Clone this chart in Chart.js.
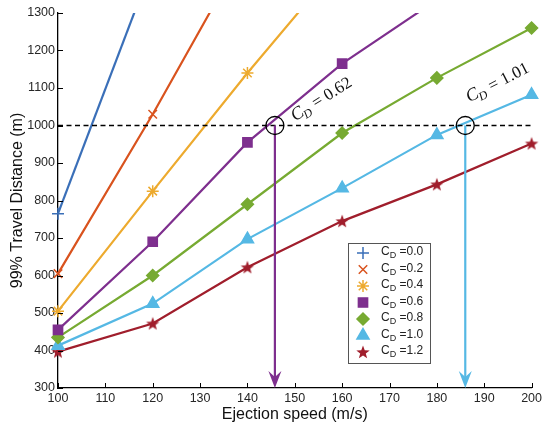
<!DOCTYPE html>
<html>
<head>
<meta charset="utf-8">
<script src="https://cdn.jsdelivr.net/npm/chart.js@4.4.1/dist/chart.umd.min.js"></script>
<style>
html, body { margin: 0; padding: 0; background: #fff; }
#wrap { width: 545px; height: 428px; }
</style>
</head>
<body>
<div id="wrap"><canvas id="chart"></canvas></div>
<script>
// ejection speed (m/s) and 99% travel distance (m) per drag coefficient
const speeds = [100, 120, 140, 160, 180, 200]
const cd00 = [765, 1430]
const cd02 = [605, 1030, 1480]
const cd04 = [505, 825, 1140, 1440]
const cd06 = [455, 690, 955, 1165, 1335]
const cd08 = [435, 600, 790, 980, 1127, 1260]
const cd10 = [413, 525, 697, 833, 975, 1082]
const cd12 = [397, 472, 622, 745, 843, 952]
const cdNames = ['0.0', '0.2', '0.4', '0.6', '0.8', '1.0', '1.2']

const targetDistance = 1000
const critSpeeds = [145.8, 186.0]
const critNames = ['0.62', '1.01']

const colors = ['#3A6FB8', '#D9531E', '#EDAA2E', '#7E2F8E', '#77AA32', '#55B8E4', '#A01E2C']

// filled five point star, chart.js has none
const makeStar = (color, r) => {
    let c = document.createElement('canvas')
    c.width = r * 2 + 2
    c.height = r * 2 + 2
    let g = c.getContext('2d')
    g.fillStyle = color
    g.beginPath()
    for (let i = 0; i < 10; i++) {
        let rad = i % 2 === 0 ? r : r * 0.42
        let a = -Math.PI / 2 + i * Math.PI / 5
        let px = r + 1 + rad * Math.cos(a)
        let py = r + 1.6 + rad * Math.sin(a)
        if (i === 0) g.moveTo(px, py); else g.lineTo(px, py)
    }
    g.closePath()
    g.fill()
    return c
}
const starImg = makeStar(colors[6], 7)

const styles = [
    { pointStyle: 'cross', radius: 6 },
    { pointStyle: 'crossRot', radius: 6 },
    { pointStyle: 'star', radius: 6 },
    { pointStyle: 'rect', radius: 6.5 },
    { pointStyle: 'rectRot', radius: 6 },
    { pointStyle: 'triangle', radius: 7 },
    { pointStyle: starImg, radius: 7 },
]

const series = [cd00, cd02, cd04, cd06, cd08, cd10, cd12]

const datasets = series.map((vals, k) => ({
    label: 'CD =' + cdNames[k],
    data: vals.map((v, i) => ({ x: speeds[i], y: v })),
    borderColor: colors[k],
    backgroundColor: colors[k],
    borderWidth: 2.2,
    pointStyle: styles[k].pointStyle,
    pointRadius: styles[k].radius,
    pointBorderWidth: 1.5,
    pointBorderColor: colors[k],
    pointBackgroundColor: colors[k],
    tension: 0,
    clip: { left: 12, right: 12, top: 0, bottom: 12 }
}))

const annotations = {
    id: 'annotations',
    afterDatasetsDraw(chart) {
        const c = chart.ctx
        const xs = chart.scales.x
        const ys = chart.scales.y
        const yT = ys.getPixelForValue(targetDistance)
        const yB = ys.bottom

        c.save()
        // dashed line at target distance
        c.strokeStyle = '#000'
        c.lineWidth = 1.3
        c.setLineDash([5, 3.5])
        c.beginPath()
        c.moveTo(xs.getPixelForValue(100), yT)
        c.lineTo(xs.getPixelForValue(200), yT)
        c.stroke()
        c.setLineDash([])

        const arrowColors = [colors[3], colors[5]]
        critSpeeds.forEach((s, i) => {
            const x = xs.getPixelForValue(s)
            c.strokeStyle = arrowColors[i]
            c.fillStyle = arrowColors[i]
            c.lineWidth = 2.2
            c.beginPath()
            c.moveTo(x, yT)
            c.lineTo(x, yB - 10)
            c.stroke()
            c.beginPath()
            c.moveTo(x, yB)
            c.lineTo(x - 6.5, yB - 17)
            c.lineTo(x, yB - 11)
            c.lineTo(x + 6.5, yB - 17)
            c.closePath()
            c.fill()
            c.strokeStyle = '#000'
            c.lineWidth = 1.3
            c.beginPath()
            c.arc(x, yT, 9, 0, Math.PI * 2)
            c.stroke()
        })

        // rotated labels
        const labelPos = [[20, -4, 32], [4, -23, 27]]
        critSpeeds.forEach((s, i) => {
            const x = xs.getPixelForValue(s)
            c.save()
            c.translate(x + labelPos[i][0], yT + labelPos[i][1])
            c.rotate(-labelPos[i][2] * Math.PI / 180)
            c.fillStyle = '#111'
            c.textBaseline = 'alphabetic'
            c.font = 'italic 18px "Liberation Serif"'
            c.fillText('C', 0, 0)
            let w = c.measureText('C').width
            c.font = 'italic 12px "Liberation Serif"'
            c.fillText('D', w - 1, 4)
            w += c.measureText('D').width
            c.font = '17px "Liberation Serif"'
            c.fillText(' = ' + critNames[i], w, 0)
            c.restore()
        })
        c.restore()
    },
    afterDraw(chart) {
        const c = chart.ctx
        const xs = chart.scales.x
        const ys = chart.scales.y
        c.save()
        // inward tick marks
        c.strokeStyle = '#000'
        c.lineWidth = 1
        xs.ticks.forEach(t => {
            const x = Math.round(xs.getPixelForValue(t.value)) + 0.5
            c.beginPath()
            c.moveTo(x, ys.bottom)
            c.lineTo(x, ys.bottom - 5)
            c.stroke()
        })
        ys.ticks.forEach(t => {
            const y = Math.round(ys.getPixelForValue(t.value)) + 0.5
            c.beginPath()
            c.moveTo(xs.left, y)
            c.lineTo(xs.left + 5, y)
            c.stroke()
        })

        // legend box
        const bx = 348, by = 243, bw = 82, bh = 120
        c.fillStyle = '#fff'
        c.fillRect(bx, by, bw, bh)
        c.strokeStyle = '#555'
        c.lineWidth = 1
        c.strokeRect(bx + 0.5, by + 0.5, bw, bh)
        series.forEach((vals, k) => {
            const y = by + 10 + k * 16.5
            const mx = bx + 15
            c.strokeStyle = colors[k]
            c.fillStyle = colors[k]
            c.lineWidth = 1.5
            if (k === 6) {
                c.drawImage(starImg, mx - starImg.width / 2, y - starImg.height / 2)
            } else {
                Chart.helpers.drawPoint(c, { pointStyle: styles[k].pointStyle, radius: styles[k].radius, rotation: 0, borderWidth: 1.5 }, mx, y)
            }
            c.fillStyle = '#222'
            c.textBaseline = 'middle'
            c.font = '12px "Liberation Sans"'
            c.fillText('C', bx + 33, y - 1)
            let w = c.measureText('C').width
            c.font = '9px "Liberation Sans"'
            c.fillText('D', bx + 33 + w, y + 3)
            w += c.measureText('D').width
            c.font = '12px "Liberation Sans"'
            c.fillText(' =' + cdNames[k], bx + 33 + w, y - 1)
        })
        c.restore()
    }
}

let ctx = document.getElementById('chart')
let myChart = new Chart(ctx, {
    type: 'line',
    data: { datasets: datasets },
    options: {
        responsive: true,
        maintainAspectRatio: false,
        animation: false,
        layout: { padding: { left: 4, right: 10, top: 13, bottom: 0 } },
        plugins: {
            legend: { display: false },
            tooltip: { enabled: false }
        },
        scales: {
            x: {
                type: 'linear',
                min: 100,
                max: 200,
                ticks: { stepSize: 10, color: '#262626', font: { family: 'Liberation Sans', size: 12.5 }, padding: 3, maxRotation: 0, callback: v => String(v) },
                grid: { display: false, drawTicks: false },
                border: { display: true, color: '#000', width: 1.3 },
                title: { display: true, text: 'Ejection speed (m/s)', color: '#111', font: { family: 'Liberation Sans', size: 16 }, padding: { top: 2, bottom: 4 } },
                afterFit: s => { s.height = 40 }
            },
            y: {
                min: 300,
                max: 1300,
                ticks: { stepSize: 100, color: '#262626', font: { family: 'Liberation Sans', size: 12.5 }, padding: 3, callback: v => String(v) },
                grid: { display: false, drawTicks: false },
                border: { display: true, color: '#000', width: 1.3 },
                title: { display: true, text: '99% Travel Distance (m)', color: '#111', font: { family: 'Liberation Sans', size: 16 }, padding: { top: 4, bottom: 2 } },
                afterFit: s => { s.width = 54 }
            }
        }
    },
    plugins: [annotations]
})
</script>
</body>
</html>
